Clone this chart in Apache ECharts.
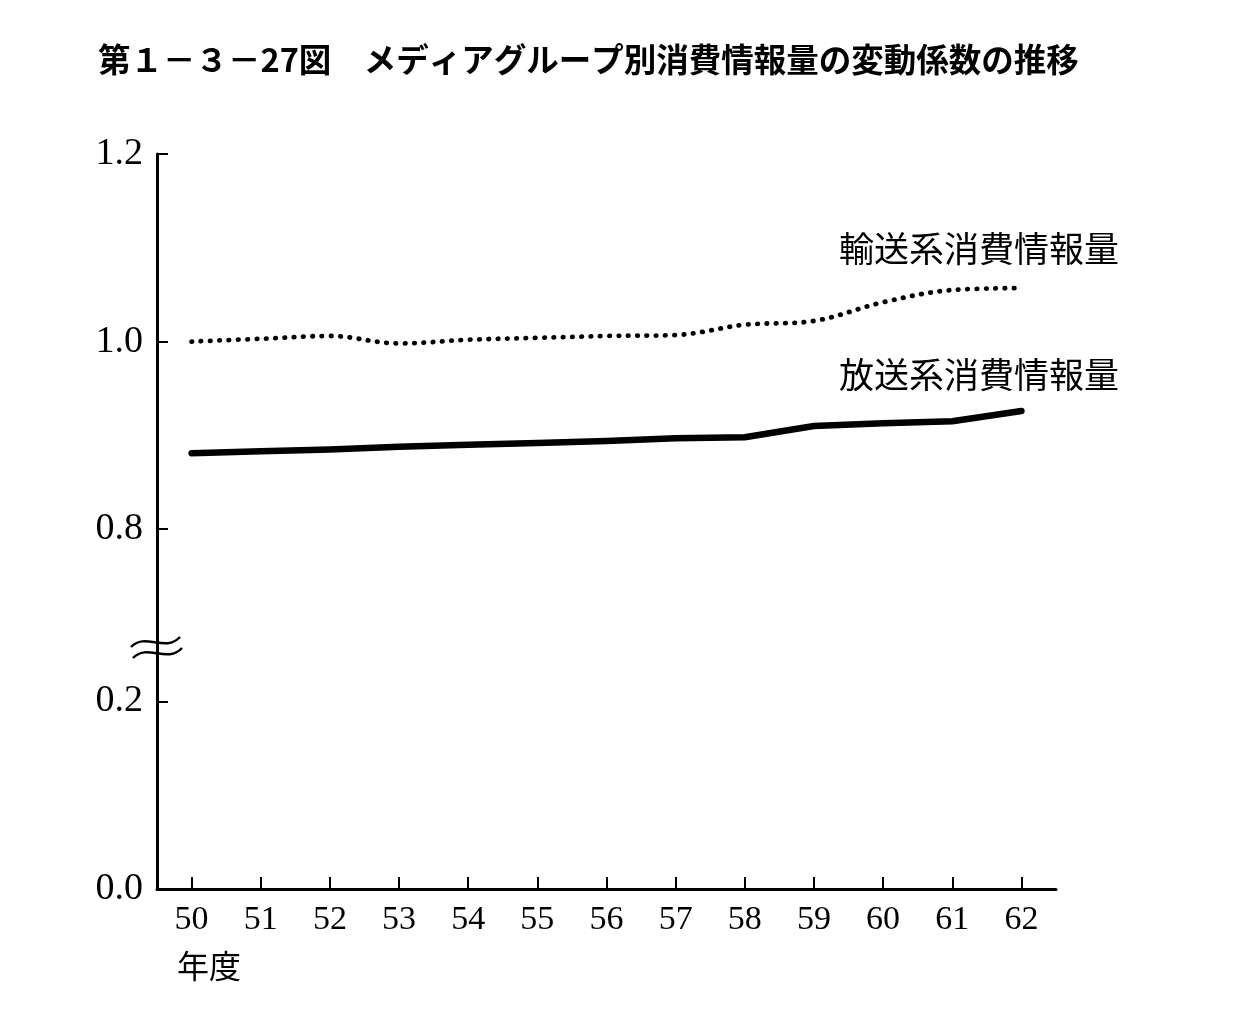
<!DOCTYPE html>
<html>
<head>
<meta charset="utf-8">
<script src="https://cdn.jsdelivr.net/npm/echarts@6/dist/echarts.min.js"></script>
<style>html,body{margin:0;padding:0;background:#fff;}#chart{width:1234px;height:1015px;}</style>
</head>
<body>
<div id="chart"></div>
<script>
// ---- data ----
const years = ['50','51','52','53','54','55','56','57','58','59','60','61','62'];
const transportValues = [1.000, 1.003, 1.006, 0.998, 1.002, 1.004, 1.006, 1.007, 1.018, 1.022, 1.042, 1.055, 1.057];
const broadcastValues = [0.881, 0.883, 0.885, 0.888, 0.890, 0.892, 0.894, 0.897, 0.898, 0.910, 0.913, 0.915, 0.926];
const yTickValues = [0.0, 0.2, 0.8, 1.0, 1.2];
const yTickLabels = ['0.0', '0.2', '0.8', '1.0', '1.2'];
const transportName = '輸送系消費情報量';
const broadcastName = '放送系消費情報量';
const titleText = '第１－３－27図　メディアグループ別消費情報量の変動係数の推移';
const xUnitText = '年度';

// broken axis: 0–0.2 shown, then a gap, then 0.8–1.2
const breakLow = 0.2, breakHigh = 0.8, breakGap = 0.1836;
function toAxis(v) {
  return v <= breakLow ? v : breakLow + breakGap + (v - breakHigh);
}
const yAxisTicks = yTickValues.map(toAxis);

const chart = echarts.init(document.getElementById('chart'));
const serifFont = '"Liberation Serif", "DejaVu Serif", serif';
const cjkFont = '"Noto Sans CJK JP", sans-serif';

chart.setOption({
  backgroundColor: '#fff',
  animation: false,
  title: {
    text: titleText,
    left: 93, top: 38,
    textStyle: { fontFamily: cjkFont, fontSize: 32.5, fontWeight: 'bold', color: '#000' }
  },
  grid: { left: 157, right: 178, top: 154, bottom: 126, containLabel: false },
  xAxis: {
    type: 'category',
    data: years,
    boundaryGap: true,
    axisLine: { show: true, lineStyle: { color: '#000', width: 3 } },
    axisTick: { show: true, inside: true, alignWithLabel: true, length: 12, lineStyle: { color: '#000', width: 2 } },
    axisLabel: { margin: 14, fontFamily: serifFont, fontSize: 34, color: '#000' },
    splitLine: { show: false }
  },
  yAxis: {
    type: 'value',
    min: 0,
    max: toAxis(1.2),
    axisLine: { show: true, lineStyle: { color: '#000', width: 3 } },
    axisTick: { show: true, inside: true, length: 11, customValues: yAxisTicks, lineStyle: { color: '#000', width: 2 } },
    axisLabel: {
      margin: 14, fontFamily: serifFont, fontSize: 38, color: '#000',
      customValues: yAxisTicks,
      formatter: function (val) {
        let best = 0, bd = Infinity;
        yAxisTicks.forEach((t, i) => { const d = Math.abs(t - val); if (d < bd) { bd = d; best = i; } });
        return yTickLabels[best];
      }
    },
    splitLine: { show: false }
  },
  series: [
    {
      name: transportName,
      type: 'line',
      data: transportValues.map(toAxis),
      smooth: 0.35,
      symbol: 'none',
      lineStyle: { color: '#000', width: 4.8, type: [0.5, 8.8], cap: 'round' }
    },
    {
      name: broadcastName,
      type: 'line',
      data: broadcastValues.map(toAxis),
      symbol: 'none',
      lineStyle: { color: '#000', width: 6.5, cap: 'round', join: 'round' }
    }
  ],
  graphic: [
    { type: 'text', left: 839, top: 231, style: { text: transportName, font: 'normal 35px ' + cjkFont, fill: '#000' } },
    { type: 'text', left: 839, top: 357, style: { text: broadcastName, font: 'normal 35px ' + cjkFont, fill: '#000' } },
    { type: 'text', left: 177, top: 950, style: { text: xUnitText, font: 'normal 32px ' + cjkFont, fill: '#000' } },
    { type: 'bezierCurve', shape: { x1: 131, y1: 647, cpx1: 145, cpy1: 632, cpx2: 165, cpy2: 653, x2: 180, y2: 637 }, style: { stroke: '#000', lineWidth: 2.5, fill: null }, z: 100 },
    { type: 'bezierCurve', shape: { x1: 133, y1: 658, cpx1: 147, cpy1: 643, cpx2: 167, cpy2: 664, x2: 182, y2: 648 }, style: { stroke: '#000', lineWidth: 2.5, fill: null }, z: 100 }
  ]
});
</script>
</body>
</html>
